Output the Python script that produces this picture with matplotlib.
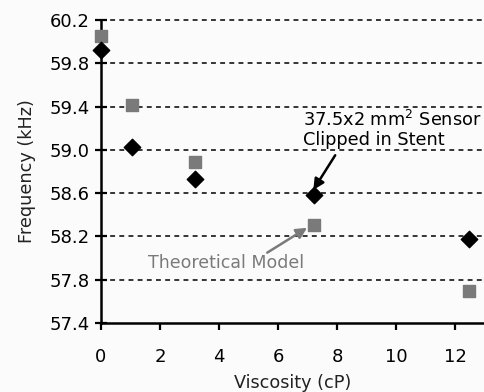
import numpy as np
import matplotlib.pyplot as plt

# ---------- data ----------
visc_model = [0.0, 1.05, 3.2, 7.2, 12.45]
freq_model = [60.05, 59.41, 58.89, 58.31, 57.70]   # theoretical model (grey squares)

visc_meas = [0.0, 1.05, 3.2, 7.2, 12.45]
freq_meas = [59.92, 59.03, 58.73, 58.58, 58.18]    # sensor clipped in stent (black diamonds)

yticks = [57.4, 57.8, 58.2, 58.6, 59.0, 59.4, 59.8, 60.2]
xticks = [0, 2, 4, 6, 8, 10, 12]

# ---------- plot ----------
fig = plt.figure(figsize=(4.85, 3.92), dpi=100, facecolor='#fbfbfb')
ax = fig.add_axes([0.208, 0.176, 0.792, 0.773])
ax.set_facecolor('#fbfbfb')

# dashed horizontal grid
for y in yticks[1:]:
    ax.axhline(y, color='black', linestyle=(0, (3.2, 2.8)), linewidth=1.1, zorder=1, clip_on=False)

ax.scatter(visc_model, freq_model, marker='s', s=85, color='#7a7a7a', zorder=3, clip_on=False)
ax.scatter(visc_meas, freq_meas, marker='D', s=70, color='black', zorder=4, clip_on=False)

ax.set_xlim(0, 13.0)
ax.set_ylim(57.4, 60.2)
ax.set_xticks(xticks)
ax.set_yticks(yticks)
ax.set_yticklabels([f"{t:.1f}" for t in yticks])

for s in ['top', 'right']:
    ax.spines[s].set_visible(False)
for s in ['left', 'bottom']:
    ax.spines[s].set_linewidth(1.8)
ax.tick_params(axis='y', direction='inout', length=8, width=1.6, labelsize=13, pad=4)
ax.tick_params(axis='x', direction='out', length=5, width=1.6, labelsize=13, pad=13)

ax.set_xlabel("Viscosity (cP)", fontsize=12.7, color='#222222', labelpad=6)
ax.set_ylabel("Frequency (kHz)", fontsize=12.7, color='#222222', labelpad=10)

# annotations
ax.text(6.85, 59.19, "37.5x2 mm$^2$ Sensor\nClipped in Stent", fontsize=12.8,
        ha='left', va='center', linespacing=1.05)
ax.annotate("", xy=(7.19, 58.63), xytext=(7.93, 58.95),
            arrowprops=dict(arrowstyle='-|>', color='black', lw=1.8, mutation_scale=16,
                            shrinkA=0, shrinkB=0))
ax.text(4.22, 57.95, "Theoretical Model", fontsize=12.5, color='#7a7a7a',
        ha='center', va='center')
ax.annotate("", xy=(6.98, 58.28), xytext=(5.63, 58.05),
            arrowprops=dict(arrowstyle='-|>', color='#7a7a7a', lw=1.8, mutation_scale=16,
                            shrinkA=0, shrinkB=0))

fig.savefig("out.png", dpi=100, facecolor=fig.get_facecolor())
